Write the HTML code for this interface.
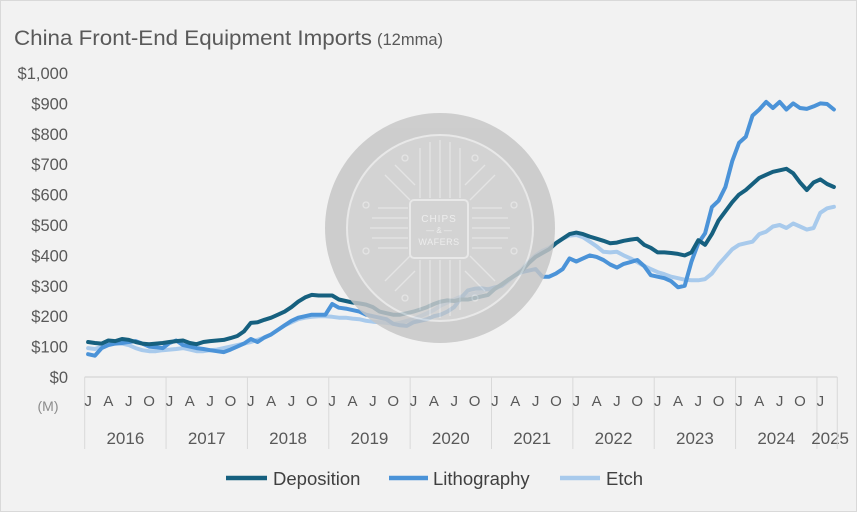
<!DOCTYPE html>
<html><head><meta charset="utf-8"><style>
html,body{margin:0;padding:0;background:#f2f2f2}
svg{display:block;font-family:"Liberation Sans",sans-serif}
</style></head><body>
<svg id="chart" width="857" height="512" viewBox="0 0 857 512" xmlns="http://www.w3.org/2000/svg">
<rect x="0.5" y="0.5" width="856" height="511" fill="#f2f2f2" stroke="#d9d9d9"/>
<text x="14" y="45" font-size="21.5" fill="#595959" textLength="358" lengthAdjust="spacingAndGlyphs">China Front-End Equipment Imports</text>
<text x="377" y="45" font-size="16.5" fill="#595959">(12mma)</text>
<g id="yaxis"></g>
<g id="xaxis"></g>
<text x="48" y="411" font-size="14" fill="#8c8c8c" text-anchor="middle">(M)</text>
<g id="series"></g>
<g id="wm" opacity="0.82">
  <circle cx="440" cy="228" r="115" fill="#c6c6c6"/>
  <circle cx="440" cy="228" r="93" fill="#cdcdcd" stroke="#e6e6e6" stroke-width="2"/>
  <g stroke="#e2e2e2" stroke-width="1.3" fill="none">
    <path d="M370 228h38M372 218h36M372 238h36M378 208h30M378 248h30M472 228h38M472 218h36M472 238h36M472 208h30M472 248h30"/>
    <path d="M440 140v58M430 142v56M450 142v56M420 148v50M460 148v50M440 260v58M430 260v56M450 260v56M420 260v50M460 260v50"/>
    <path d="M385 175l25 25M495 175l-25 25M385 281l25-25M495 281l-25-25M395 165l20 20M485 165l-20 20M395 291l20-20M485 291l-20-20"/>
    <circle cx="405" cy="158" r="3"/><circle cx="475" cy="158" r="3"/><circle cx="405" cy="298" r="3"/><circle cx="475" cy="298" r="3"/>
    <circle cx="366" cy="205" r="3"/><circle cx="366" cy="251" r="3"/><circle cx="514" cy="205" r="3"/><circle cx="514" cy="251" r="3"/>
  </g>
  <rect x="410" y="200" width="58" height="58" rx="4" fill="#cdcdcd" stroke="#e6e6e6" stroke-width="2"/>
  <text x="439" y="222" font-size="10" fill="#ececec" text-anchor="middle" letter-spacing="1">CHIPS</text>
  <text x="439" y="233" font-size="8" fill="#ececec" text-anchor="middle">— &amp; —</text>
  <text x="439" y="245" font-size="9" fill="#ececec" text-anchor="middle" letter-spacing="0.5">WAFERS</text>
</g>
<g id="legend">
  <g><line x1="226" y1="478" x2="267" y2="478" stroke="#16607f" stroke-width="4.5"/><text x="273" y="485" font-size="18.5" fill="#404040">Deposition</text></g>
  <g><line x1="389" y1="478" x2="428" y2="478" stroke="#4b93d8" stroke-width="4.5"/><text x="433" y="485" font-size="18.5" fill="#404040">Lithography</text></g>
  <g><line x1="560" y1="478" x2="600" y2="478" stroke="#a8caec" stroke-width="4.5"/><text x="606" y="485" font-size="18.5" fill="#404040">Etch</text></g>
</g>
</svg>
<script>
const years = ["2016","2017","2018","2019","2020","2021","2022","2023","2024","2025"];
const monthLetters = ["J","A","J","O"];
const yTicks = [0,100,200,300,400,500,600,700,800,900,1000];
const yTickLabels = ["$0","$100","$200","$300","$400","$500","$600","$700","$800","$900","$1,000"];
const deposition = [115,112,110,120,118,125,122,115,110,108,110,112,
 115,118,120,112,108,115,118,120,122,128,135,150,
 178,180,188,195,205,215,230,248,262,270,268,268,
 268,255,250,245,242,238,230,215,210,205,205,210,
 215,222,230,240,248,252,250,255,255,260,265,270,
 290,305,320,335,350,375,395,408,420,440,455,470,
 475,470,462,455,448,440,442,448,452,455,435,425,
 410,410,408,405,400,410,450,435,470,515,545,575,
 600,615,635,655,665,675,680,685,670,640,615,640,
 650,635,625];
const lithography = [75,70,95,105,110,112,115,118,110,100,98,95,
 112,120,105,100,95,92,88,85,82,90,100,110,
 125,115,130,140,155,170,185,195,200,205,205,205,
 240,228,225,220,215,205,200,195,190,175,170,168,
 180,185,190,200,205,215,230,260,285,290,292,288,
 295,300,320,335,345,350,355,330,330,340,355,390,
 380,390,400,395,385,370,360,372,378,385,365,335,
 330,325,315,295,300,380,440,473,559,580,625,710,
 770,790,860,880,905,885,905,880,900,885,882,890,
 900,898,880];
const etch = [95,92,100,108,112,110,105,95,88,85,85,88,
 90,92,95,90,85,85,88,90,95,100,105,110,
 115,122,130,140,155,170,180,190,195,198,200,200,
 198,195,195,192,190,185,182,180,178,175,178,185,
 190,200,210,220,235,245,255,265,270,275,280,290,
 290,300,315,335,355,380,400,415,425,440,455,465,
 467,460,445,430,412,410,412,400,390,378,365,355,
 345,338,330,325,320,318,318,322,340,370,395,420,
 435,440,445,470,478,495,500,490,505,495,485,490,
 540,555,560];
const NS='http://www.w3.org/2000/svg';
const X0=84.7, MW=6.78, Y0=377, YS=0.304;
function xPos(i){return X0+(i+0.5)*MW;}
function yPos(v){return Y0-v*YS;}
function mk(tag,attrs,parent){const e=document.createElementNS(NS,tag);for(const k in attrs)e.setAttribute(k,attrs[k]);parent.appendChild(e);return e;}
const ya=document.getElementById('yaxis');
yTicks.forEach((t,i)=>{
  const e=mk('text',{x:68,y:yPos(t)+6,'font-size':16.5,fill:'#595959','text-anchor':'end'},ya);
  
  
  e.textContent=yTickLabels[i];
});
const xa=document.getElementById('xaxis');
const nMonths=deposition.length;
const xEnd=X0+nMonths*MW;
const base=mk('line',{x1:X0,y1:Y0,x2:xEnd,y2:Y0,stroke:'#d9d9d9','stroke-width':1.5},xa);


years.forEach((yr,k)=>{
  const xs=X0+k*12*MW;
  const sep=mk('line',{x1:xs,y1:Y0,x2:xs,y2:449,stroke:'#d9d9d9','stroke-width':1},xa);
  
  
  const mcount=Math.min(12,nMonths-k*12);
  for(let q=0;q<4;q++){
    const mi=q*3;
    if(mi>=mcount)break;
    const mt=mk('text',{x:xPos(k*12+mi),y:406,'font-size':15,fill:'#595959','text-anchor':'middle'},xa);
    
    
    mt.textContent=monthLetters[q];
  }
  const xe=X0+(k*12+mcount)*MW;
  const yt=mk('text',{x:(xs+xe)/2+(mcount<12?3:0),y:444,'font-size':17,fill:'#595959','text-anchor':'middle'},xa);
  
  
  yt.textContent=yr;
});
const endSep=mk('line',{x1:xEnd,y1:Y0,x2:xEnd,y2:449,stroke:'#d9d9d9','stroke-width':1},xa);


const sg=document.getElementById('series');
[[etch,'#a8caec','etch-line'],[lithography,'#4b93d8','lithography-line'],[deposition,'#16607f','deposition-line']].forEach(([arr,col,nm])=>{
  const d=arr.map((v,i)=>(i?'L':'M')+xPos(i).toFixed(1)+' '+yPos(v).toFixed(1)).join(' ');
  const p=mk('path',{d:d,fill:'none',stroke:col,'stroke-width':4,'stroke-linejoin':'round','stroke-linecap':'round'},sg);
  
  
});
</script>
</body></html>
